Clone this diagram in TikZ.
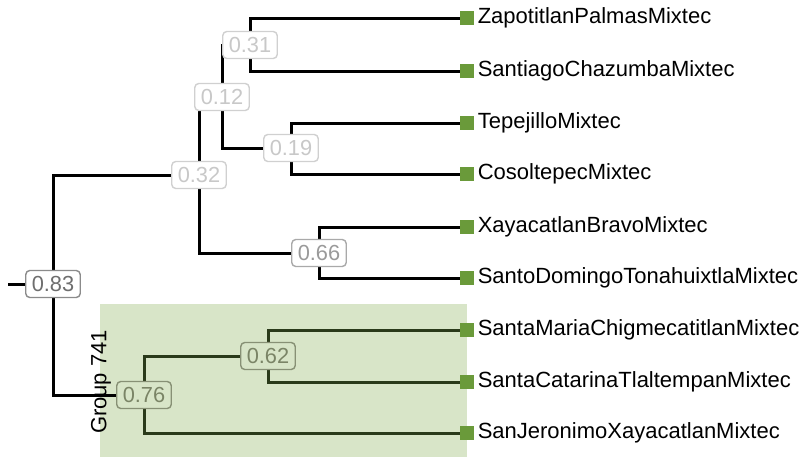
\documentclass[tikz,border=0pt]{standalone}
\usepackage{fontspec}
\setmainfont{Liberation Sans}
\usetikzlibrary{positioning}
\definecolor{grpbg}{HTML}{D8E5C8}
\definecolor{grpline}{HTML}{2A3A1A}
\definecolor{leafgreen}{HTML}{6A9A3A}
\definecolor{pale}{HTML}{C8C8C8}
\definecolor{mid}{HTML}{9A9A9A}
\definecolor{dark}{HTML}{6E6E6E}
\definecolor{grpnum}{HTML}{7A8466}
\tikzset{
  branch/.style={line width=1.5pt},
  grpbranch/.style={line width=1.5pt, draw=grpline},
  support/.style={draw, rounded corners=2pt, line width=0.7pt, fill=white,
    minimum height=13.5pt, inner xsep=3pt, inner ysep=0pt,
    font=\fontsize{10.9}{12}\selectfont},
  leaf/.style={fill=leafgreen, minimum size=7pt, inner sep=0pt,
    label={[font=\fontsize{11}{13}\selectfont, inner sep=0pt, xshift=1.5pt]right:#1}}
}
\begin{document}
\begin{tikzpicture}[x=0.5pt, y=-0.5pt]
	\useasboundingbox (0,0) rectangle (805,457);
	\fill[grpbg] (100,304) rectangle (467,457);
	\node[rotate=90, font=\fontsize{11}{13}\selectfont] (grp) at (101,382) {Group 741};
	% leaves
	\node[leaf=ZapotitlanPalmasMixtec] (l1) at (467,18) {};
	\node[leaf=SantiagoChazumbaMixtec] (l2) at (467,71) {};
	\node[leaf=TepejilloMixtec] (l3) at (467,123) {};
	\node[leaf=CosoltepecMixtec] (l4) at (467,174) {};
	\node[leaf=XayacatlanBravoMixtec] (l5) at (467,227) {};
	\node[leaf=SantoDomingoTonahuixtlaMixtec] (l6) at (467,278) {};
	\node[leaf=SantaMariaChigmecatitlanMixtec] (l7) at (467,330) {};
	\node[leaf=SantaCatarinaTlaltempanMixtec] (l8) at (467,382) {};
	\node[leaf=SanJeronimoXayacatlanMixtec] (l9) at (467,433) {};
	% junctions
	\coordinate (root) at (8,284);
	\coordinate (j83) at (53,284);
	\coordinate (j32) at (199,175);
	\coordinate (j12) at (222,97);
	\coordinate (j31) at (250,45);
	\coordinate (j19) at (291,148);
	\coordinate (j66) at (319,253);
	\coordinate (j76) at (144,395);
	\coordinate (j62) at (268,356);
	% branches
	\draw[branch] (root) -- (j83);
	\draw[branch] (j83) |- (j32);
	\draw[branch] (j83) |- (j76);
	\draw[branch] (j32) |- (j12);
	\draw[branch] (j32) |- (j66);
	\draw[branch] (j12) |- (j31);
	\draw[branch] (j12) |- (j19);
	\draw[branch] (j31) |- (l1.west);
	\draw[branch] (j31) |- (l2.west);
	\draw[branch] (j19) |- (l3.west);
	\draw[branch] (j19) |- (l4.west);
	\draw[branch] (j66) |- (l5.west);
	\draw[branch] (j66) |- (l6.west);
	\draw[grpbranch] (j76) |- (j62);
	\draw[grpbranch] (j76) |- (l9.west);
	\draw[grpbranch] (j62) |- (l7.west);
	\draw[grpbranch] (j62) |- (l8.west);
	% support values
	\node[support, draw=dark!80, text=dark] (s83) at (j83) {0.83};
	\node[support, draw=pale!85, text=pale] (s32) at (j32) {0.32};
	\node[support, draw=pale!85, text=pale] (s12) at (j12) {0.12};
	\node[support, draw=pale!85, text=pale] (s31) at (j31) {0.31};
	\node[support, draw=pale!85, text=pale] (s19) at (j19) {0.19};
	\node[support, draw=mid!85, text=mid] (s66) at (j66) {0.66};
	\node[support, draw=grpnum!90, text=grpnum, fill=grpbg] (s76) at (j76) {0.76};
	\node[support, draw=grpnum!90, text=grpnum, fill=grpbg] (s62) at (j62) {0.62};
\end{tikzpicture}
\end{document}
